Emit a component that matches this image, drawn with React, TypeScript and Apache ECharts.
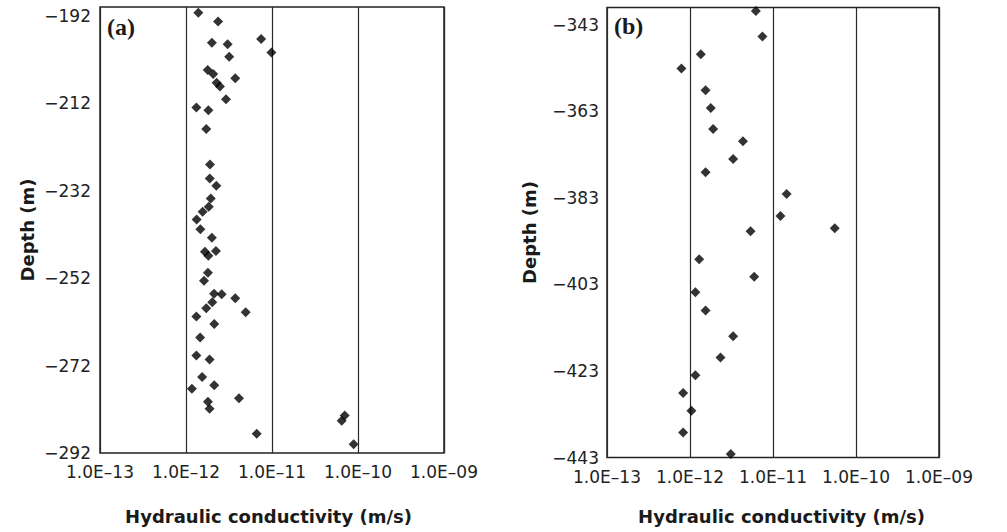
import React, { useEffect, useRef } from "react";
import * as echarts from "echarts";

// Panel (a): hydraulic conductivity (m/s) vs depth (m)
const condA = [
  1.39e-12, 2.36e-12, 7.48e-12, 2.0e-12, 3.05e-12, 9.85e-12, 3.18e-12, 1.79e-12, 2.07e-12, 3.74e-12,
  2.27e-12, 2.48e-12, 2.92e-12, 1.32e-12, 1.82e-12, 1.72e-12, 1.9e-12, 1.89e-12, 2.25e-12, 1.94e-12,
  1.84e-12, 1.56e-12, 1.33e-12, 1.47e-12, 2.0e-12, 1.66e-12, 2.23e-12, 1.82e-12, 1.8e-12, 1.62e-12,
  2.12e-12, 2.6e-12, 3.74e-12, 2.02e-12, 1.72e-12, 4.94e-12, 1.32e-12, 2.13e-12, 1.46e-12, 1.32e-12,
  1.88e-12, 1.54e-12, 2.13e-12, 1.17e-12, 4.13e-12, 1.8e-12, 1.88e-12, 7.0e-11, 6.46e-11, 6.64e-12,
  8.9e-11,
];
const depthA = [
  -191.3, -193.3, -197.3, -198.2, -198.5, -200.4, -201.4, -204.4, -205.3, -206.3,
  -207.3, -208.2, -211.1, -213.0, -213.6, -217.9, -226.0, -229.2, -230.9, -233.8,
  -235.7, -236.8, -238.6, -240.8, -242.8, -246.0, -245.8, -246.9, -250.8, -252.6,
  -255.6, -255.7, -256.6, -257.5, -258.9, -259.8, -260.8, -262.5, -265.6, -269.7,
  -270.6, -274.6, -276.5, -277.3, -279.5, -280.3, -281.9, -283.4, -284.6, -287.6,
  -290.0,
];

// Panel (b)
const condB = [
  6.22e-12, 7.46e-12, 1.35e-12, 7.88e-13, 1.54e-12, 1.78e-12, 1.9e-12, 4.34e-12, 3.31e-12, 1.54e-12,
  1.46e-11, 1.23e-11, 5.55e-11, 5.37e-12, 1.29e-12, 5.93e-12, 1.16e-12, 1.54e-12, 3.31e-12, 2.33e-12,
  1.16e-12, 8.26e-13, 1.04e-12, 8.26e-13, 3.1e-12,
];
const depthB = [
  -339.8, -345.7, -349.8, -353.1, -358.1, -362.2, -367.1, -369.9, -374.0, -377.1,
  -382.1, -387.2, -390.0, -390.7, -397.2, -401.2, -404.8, -409.0, -415.0, -419.9,
  -424.0, -428.1, -432.2, -437.2, -442.2,
];

const xTickLabels = ["1.0E\u201313", "1.0E\u201312", "1.0E\u201311", "1.0E\u201310", "1.0E\u201309"];
const yRangeA = [-292, -190];
const yRangeB = [-443, -339];
const yStep = 20;
const xTitle = "Hydraulic conductivity (m/s)";
const yTitle = "Depth (m)";
const panelLabels = ["(a)", "(b)"];

const SANS = "DejaVu Sans";

function xAxisDef(gridIndex: number, labelMargin: number, nameGap: number, namePad: number[]) {
  return {
    type: "log",
    logBase: 10,
    gridIndex,
    min: 1e-13,
    max: 1e-9,
    name: xTitle,
    nameLocation: "middle",
    nameGap,
    nameTextStyle: { fontFamily: SANS, fontSize: 18, fontWeight: "bold", color: "#1a1a1a", padding: namePad },
    axisLine: { show: false },
    axisTick: { show: false },
    splitLine: { show: true, lineStyle: { color: "#2a2a2a", width: 1.2 } },
    minorSplitLine: { show: false },
    axisLabel: {
      margin: labelMargin,
      fontFamily: SANS,
      fontSize: 17,
      lineHeight: 16,
      color: "#222",
      showMinLabel: true,
      showMaxLabel: true,
      formatter: (v: number) => {
        const e = Math.round(Math.log10(v));
        return xTickLabels[e + 13] ?? "";
      },
    },
  };
}

function yAxisDef(gridIndex: number, range: number[], labelMargin: number, nameGap: number) {
  return {
    type: "value",
    gridIndex,
    min: range[0],
    max: range[1],
    interval: yStep,
    name: yTitle,
    nameLocation: "middle",
    nameGap,
    nameRotate: 90,
    nameTextStyle: { fontFamily: SANS, fontSize: 18, fontWeight: "bold", color: "#1a1a1a" },
    axisLine: { show: false },
    axisTick: { show: false },
    splitLine: { show: false },
    axisLabel: {
      margin: labelMargin,
      fontFamily: SANS,
      fontSize: 17,
      lineHeight: 16,
      color: "#222",
      showMinLabel: true,
      showMaxLabel: false,
      formatter: (v: number) => String(v).replace("-", "\u2212"),
    },
  };
}

export default function App() {
  const ref = useRef<HTMLDivElement>(null);
  useEffect(() => {
    if (!ref.current) return;
    const chart = echarts.init(ref.current, null, { renderer: "svg" });
    const gridStyle = { show: true, borderColor: "#222", borderWidth: 1.5, backgroundColor: "transparent" };
    chart.setOption({
      animation: false,
      backgroundColor: "#ffffff",
      grid: [
        { left: 100, top: 7, width: 344, height: 446, ...gridStyle },
        { left: 607, top: 7.5, width: 332, height: 450, ...gridStyle },
      ],
      xAxis: [xAxisDef(0, 11, 54, [0, 7, 0, 0]), xAxisDef(1, 11, 50, [0, 0, 0, 17])],
      yAxis: [yAxisDef(0, yRangeA, 9, 64), yAxisDef(1, yRangeB, 8, 69)],
      series: [
        {
          type: "scatter",
          xAxisIndex: 0,
          yAxisIndex: 0,
          symbol: "diamond",
          symbolSize: 10,
          itemStyle: { color: "#000" },
          data: condA.map((k, i) => [k, depthA[i]]),
        },
        {
          type: "scatter",
          xAxisIndex: 1,
          yAxisIndex: 1,
          symbol: "diamond",
          symbolSize: 10,
          itemStyle: { color: "#000" },
          data: condB.map((k, i) => [k, depthB[i]]),
        },
      ],
      graphic: [
        {
          type: "text",
          left: 107,
          top: 15,
          style: { text: panelLabels[0], fontFamily: "Liberation Serif", fontWeight: "bold", fontSize: 24, fill: "#1a1a1a" },
        },
        {
          type: "text",
          left: 614,
          top: 14,
          style: { text: panelLabels[1], fontFamily: "Liberation Serif", fontWeight: "bold", fontSize: 24, fill: "#1a1a1a" },
        },
      ],
    });
    return () => chart.dispose();
  }, []);
  return (
    <div
      ref={ref}
      style={{ position: "absolute", left: 0, top: 0, width: 1007, height: 532, background: "#fff" }}
    />
  );
}
